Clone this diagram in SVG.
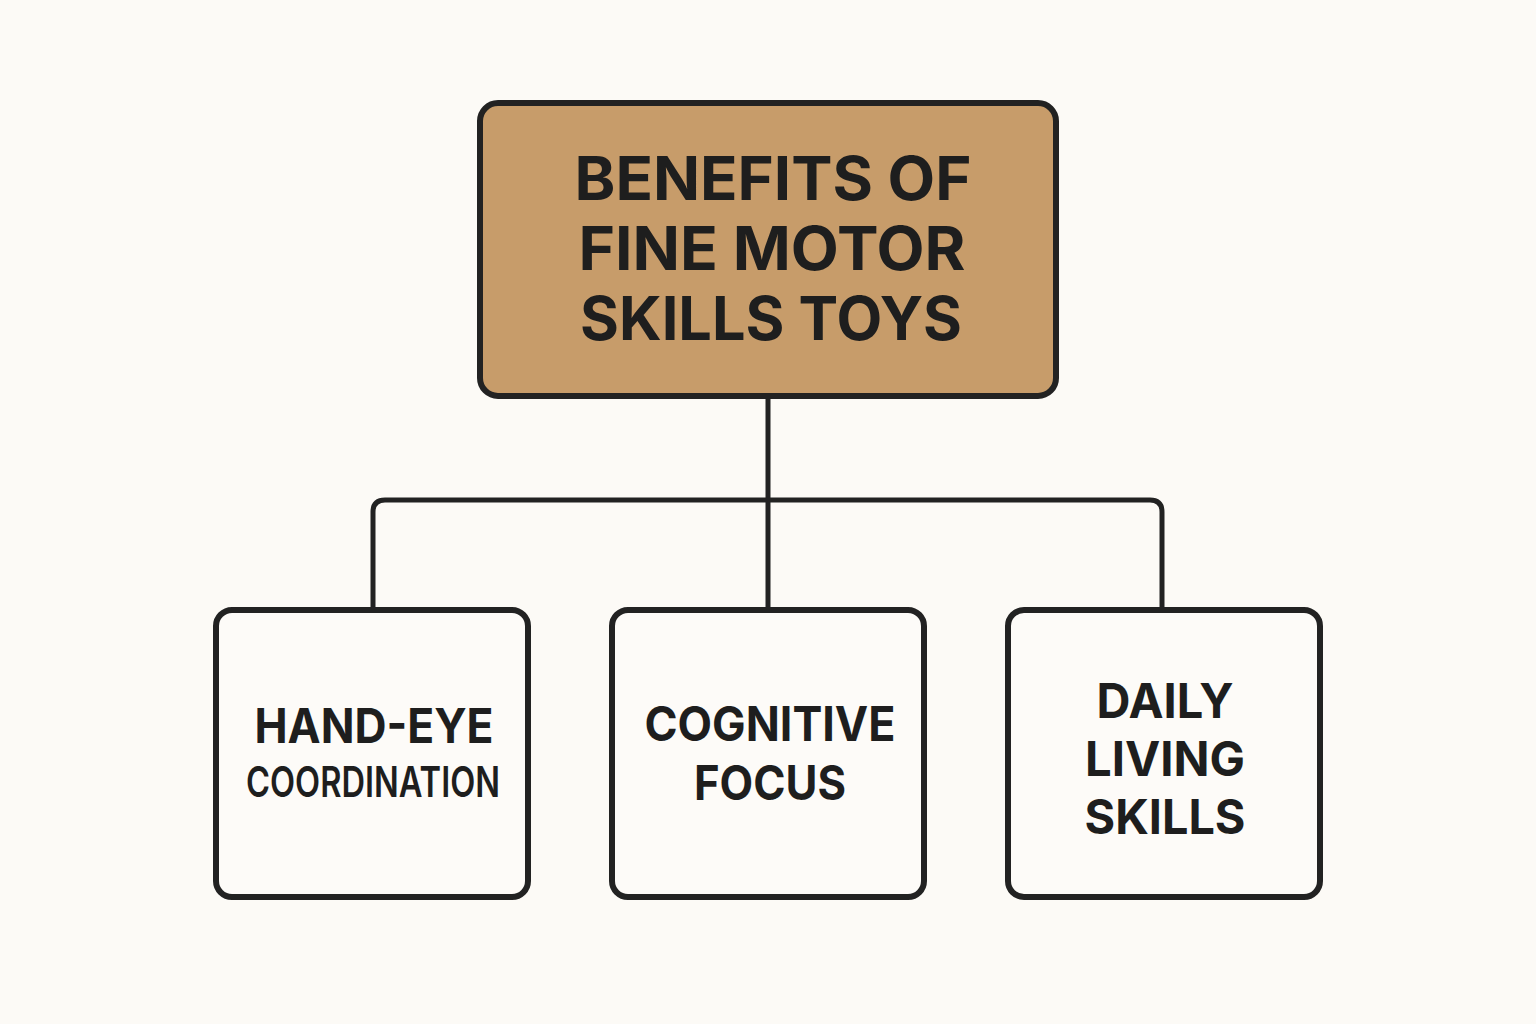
<svg xmlns="http://www.w3.org/2000/svg" width="1536" height="1024" viewBox="0 0 1536 1024">
<style>
.box{stroke:#222;stroke-width:6;}
.child{fill:#FDFBF8;}
.root{fill:#C79C6A;}
.conn{fill:none;stroke:#222;stroke-width:5;stroke-linejoin:round;}
.t{font-family:Inter,"Open Sans","Liberation Sans",sans-serif;font-weight:700;fill:#1E1E1E;text-anchor:middle;}
.big{font-size:60px;}
.mid{font-size:48px;}
.small{font-size:42px;font-weight:600;}
</style>
<rect width="1536" height="1024" fill="#FCFAF6"/>
<g id="connectors">
<path class="conn" d="M768 396 V610"/>
<path class="conn" d="M373 610 V512 Q373 500 385 500 H1150 Q1162 500 1162 512 V610"/>
</g>
<g id="root">
<rect class="box root" x="480" y="103" width="576" height="293" rx="18"/>
<text class="t big" x="773" y="200" textLength="397" lengthAdjust="spacingAndGlyphs">BENEFITS OF</text>
<text class="t big" x="772" y="270" textLength="387" lengthAdjust="spacingAndGlyphs">FINE MOTOR</text>
<text class="t big" x="771" y="340" textLength="382" lengthAdjust="spacingAndGlyphs">SKILLS TOYS</text>
</g>
<g id="hand-eye">
<rect class="box child" x="216" y="610" width="312" height="287" rx="16"/>
<text class="t mid" x="374" y="743" textLength="239" lengthAdjust="spacingAndGlyphs">HAND-EYE</text>
<text class="t small" x="373" y="797" textLength="254" lengthAdjust="spacingAndGlyphs">COORDINATION</text>
</g>
<g id="cognitive">
<rect class="box child" x="612" y="610" width="312" height="287" rx="16"/>
<text class="t mid" x="770" y="741" textLength="251" lengthAdjust="spacingAndGlyphs">COGNITIVE</text>
<text class="t mid" x="770" y="800" textLength="152" lengthAdjust="spacingAndGlyphs">FOCUS</text>
</g>
<g id="daily">
<rect class="box child" x="1008" y="610" width="312" height="287" rx="16"/>
<text class="t mid" x="1165" y="718" textLength="137" lengthAdjust="spacingAndGlyphs">DAILY</text>
<text class="t mid" x="1165" y="776" textLength="160" lengthAdjust="spacingAndGlyphs">LIVING</text>
<text class="t mid" x="1165" y="834" textLength="161" lengthAdjust="spacingAndGlyphs">SKILLS</text>
</g>
</svg>
